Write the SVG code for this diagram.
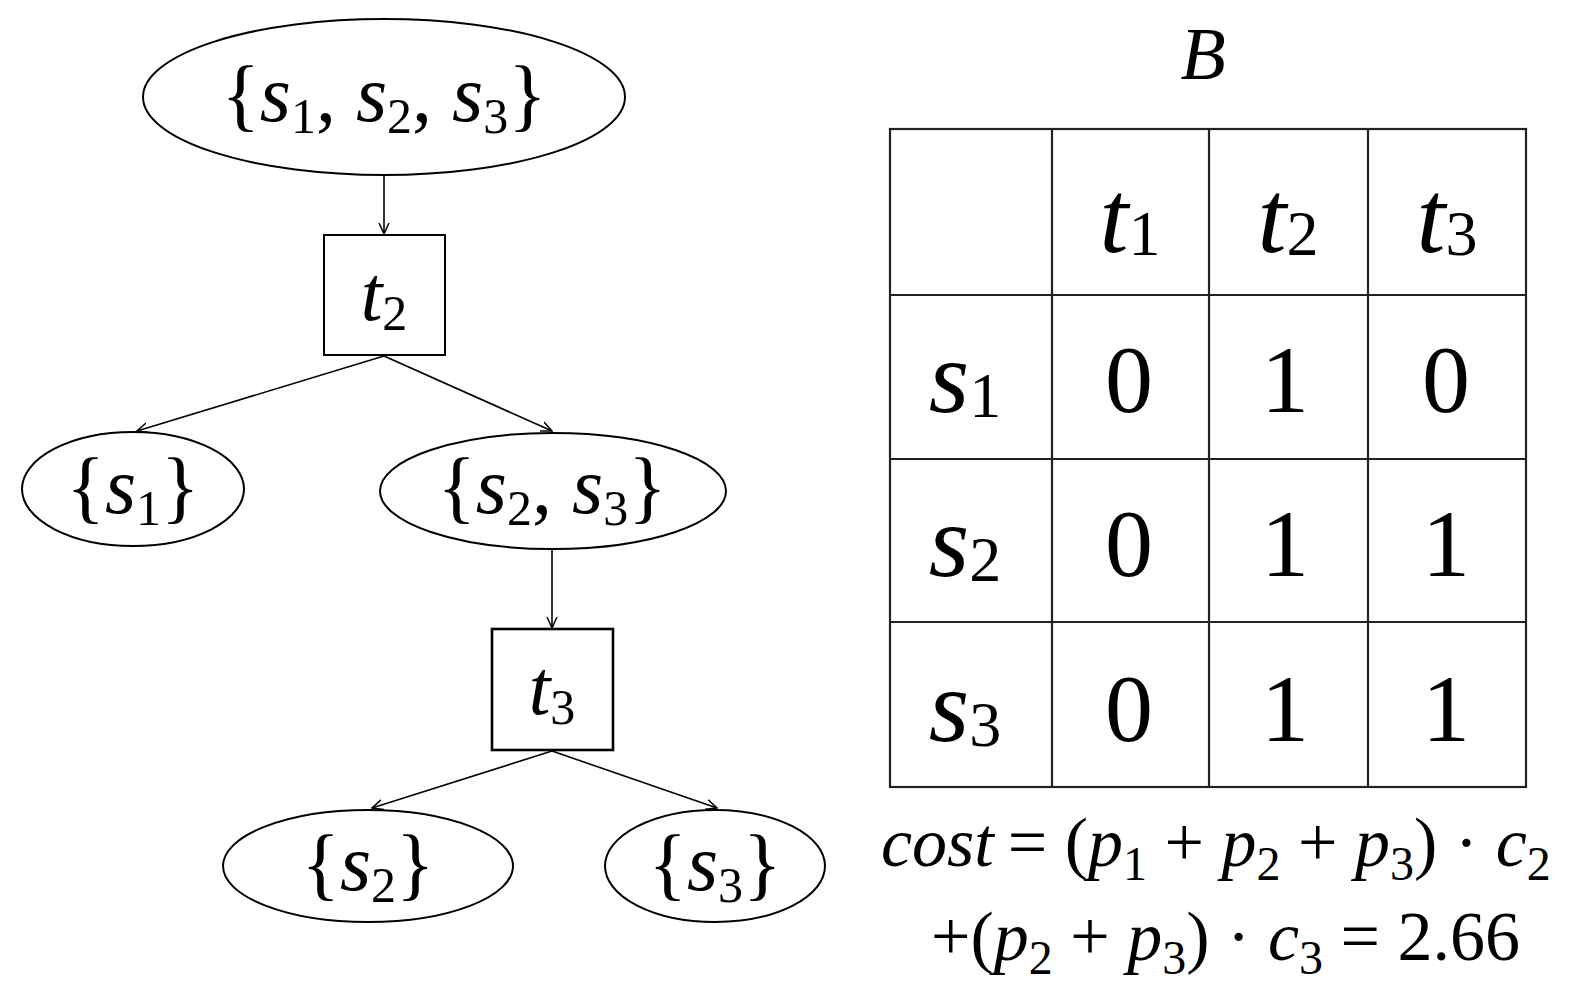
<svg xmlns="http://www.w3.org/2000/svg" width="1578" height="992" viewBox="0 0 1578 992" font-family="Liberation Serif">
<defs>
<marker id="ah" viewBox="0 0 12 12" refX="11" refY="6" markerWidth="12" markerHeight="12" markerUnits="userSpaceOnUse" orient="auto">
<polyline points="0,1 11,6 0,11" fill="none" stroke="#000" stroke-width="1.5"/>
</marker>
</defs>
<rect width="1578" height="992" fill="#fff"/>
<g id="connectors" stroke="#000" stroke-width="1.6" fill="none">
<line x1="384" y1="175" x2="384" y2="234" marker-end="url(#ah)"/>
<line x1="384" y1="356" x2="137" y2="431" marker-end="url(#ah)"/>
<line x1="384" y1="356" x2="552" y2="431" marker-end="url(#ah)"/>
<line x1="552" y1="549" x2="552" y2="628" marker-end="url(#ah)"/>
<line x1="552" y1="751" x2="372" y2="808" marker-end="url(#ah)"/>
<line x1="552" y1="751" x2="717" y2="808" marker-end="url(#ah)"/>
</g>
<g id="n_s123">
<ellipse cx="384" cy="97" rx="241" ry="78" fill="#fff" stroke="#000" stroke-width="2"/>
<text font-family="Liberation Serif" x="384" y="121" font-size="80" text-anchor="middle">{<tspan font-style="italic">s</tspan><tspan font-size="50" dy="12">1</tspan><tspan dy="-12">, </tspan><tspan font-style="italic">s</tspan><tspan font-size="50" dy="12">2</tspan><tspan dy="-12">, </tspan><tspan font-style="italic">s</tspan><tspan font-size="50" dy="12">3</tspan><tspan dy="-12">}</tspan></text>
</g>
<g id="n_t2">
<rect x="324" y="235" width="121" height="120" fill="#fff" stroke="#000" stroke-width="2"/>
<text font-family="Liberation Serif" x="384" y="320" font-size="78" text-anchor="middle"><tspan font-style="italic">t</tspan><tspan font-size="50" dy="10">2</tspan></text>
</g>
<g id="n_s1">
<ellipse cx="133" cy="489" rx="111" ry="57" fill="#fff" stroke="#000" stroke-width="2"/>
<text font-family="Liberation Serif" x="133" y="513" font-size="80" text-anchor="middle">{<tspan font-style="italic">s</tspan><tspan font-size="50" dy="12">1</tspan><tspan dy="-12">}</tspan></text>
</g>
<g id="n_s23">
<ellipse cx="553" cy="491" rx="173" ry="58" fill="#fff" stroke="#000" stroke-width="2"/>
<text font-family="Liberation Serif" x="552" y="513" font-size="80" text-anchor="middle">{<tspan font-style="italic">s</tspan><tspan font-size="50" dy="12">2</tspan><tspan dy="-12">, </tspan><tspan font-style="italic">s</tspan><tspan font-size="50" dy="12">3</tspan><tspan dy="-12">}</tspan></text>
</g>
<g id="n_t3">
<rect x="492" y="629" width="121" height="121" fill="#fff" stroke="#000" stroke-width="2.6"/>
<text font-family="Liberation Serif" x="552" y="714" font-size="78" text-anchor="middle"><tspan font-style="italic">t</tspan><tspan font-size="50" dy="10">3</tspan></text>
</g>
<g id="n_s2">
<ellipse cx="368" cy="866" rx="145" ry="56" fill="#fff" stroke="#000" stroke-width="2"/>
<text font-family="Liberation Serif" x="368" y="890" font-size="80" text-anchor="middle">{<tspan font-style="italic">s</tspan><tspan font-size="50" dy="12">2</tspan><tspan dy="-12">}</tspan></text>
</g>
<g id="n_s3">
<ellipse cx="715" cy="866" rx="110" ry="56" fill="#fff" stroke="#000" stroke-width="2"/>
<text font-family="Liberation Serif" x="715" y="890" font-size="80" text-anchor="middle">{<tspan font-style="italic">s</tspan><tspan font-size="50" dy="12">3</tspan><tspan dy="-12">}</tspan></text>
</g>
<g id="matrix">
<text font-family="Liberation Serif" font-style="italic" x="1203" y="79" font-size="74" text-anchor="middle">B</text>
<g stroke="#222" stroke-width="2.2" fill="none">
<rect x="890" y="129" width="636" height="658"/>
<line x1="1052" y1="129" x2="1052" y2="787"/>
<line x1="1209" y1="129" x2="1209" y2="787"/>
<line x1="1368" y1="129" x2="1368" y2="787"/>
<line x1="890" y1="295" x2="1526" y2="295"/>
<line x1="890" y1="459" x2="1526" y2="459"/>
<line x1="890" y1="622" x2="1526" y2="622"/>
</g>
<text font-family="Liberation Serif" font-size="96" text-anchor="middle" x="1130" y="252"><tspan font-style="italic" font-size="104">t</tspan><tspan font-size="64" dy="3">1</tspan></text>
<text font-family="Liberation Serif" font-size="96" text-anchor="middle" x="1288" y="252"><tspan font-style="italic" font-size="104">t</tspan><tspan font-size="64" dy="3">2</tspan></text>
<text font-family="Liberation Serif" font-size="96" text-anchor="middle" x="1447" y="252"><tspan font-style="italic" font-size="104">t</tspan><tspan font-size="64" dy="3">3</tspan></text>
<text font-family="Liberation Serif" font-size="96" text-anchor="middle" x="965" y="412"><tspan font-style="italic" font-size="104">s</tspan><tspan font-size="64" dy="5">1</tspan></text>
<text font-family="Liberation Serif" font-size="96" text-anchor="middle" x="965" y="576"><tspan font-style="italic" font-size="104">s</tspan><tspan font-size="64" dy="5">2</tspan></text>
<text font-family="Liberation Serif" font-size="96" text-anchor="middle" x="965" y="741"><tspan font-style="italic" font-size="104">s</tspan><tspan font-size="64" dy="5">3</tspan></text>
<text font-family="Liberation Serif" font-size="96" text-anchor="middle" x="1129" y="412">0</text>
<text font-family="Liberation Serif" font-size="96" text-anchor="middle" x="1285" y="412">1</text>
<text font-family="Liberation Serif" font-size="96" text-anchor="middle" x="1446" y="412">0</text>
<text font-family="Liberation Serif" font-size="96" text-anchor="middle" x="1129" y="576">0</text>
<text font-family="Liberation Serif" font-size="96" text-anchor="middle" x="1285" y="576">1</text>
<text font-family="Liberation Serif" font-size="96" text-anchor="middle" x="1446" y="576">1</text>
<text font-family="Liberation Serif" font-size="96" text-anchor="middle" x="1129" y="741">0</text>
<text font-family="Liberation Serif" font-size="96" text-anchor="middle" x="1285" y="741">1</text>
<text font-family="Liberation Serif" font-size="96" text-anchor="middle" x="1446" y="741">1</text>
</g>
<g id="formula">
<text font-family="Liberation Serif" font-size="70" x="881" y="866"><tspan font-style="italic">cost</tspan><tspan dx="14">= (</tspan><tspan font-style="italic">p</tspan><tspan font-size="48" dy="14">1</tspan><tspan dy="-14"> + </tspan><tspan font-style="italic">p</tspan><tspan font-size="48" dy="14">2</tspan><tspan dy="-14"> + </tspan><tspan font-style="italic">p</tspan><tspan font-size="48" dy="14">3</tspan><tspan dy="-14">) &#183; </tspan><tspan font-style="italic">c</tspan><tspan font-size="48" dy="14">2</tspan></text>
<text font-family="Liberation Serif" font-size="70" x="931" y="960">+(<tspan font-style="italic">p</tspan><tspan font-size="48" dy="14">2</tspan><tspan dy="-14"> + </tspan><tspan font-style="italic">p</tspan><tspan font-size="48" dy="14">3</tspan><tspan dy="-14">) &#183; </tspan><tspan font-style="italic">c</tspan><tspan font-size="48" dy="14">3</tspan><tspan dy="-14"> = 2.66</tspan></text>
</g>
</svg>
